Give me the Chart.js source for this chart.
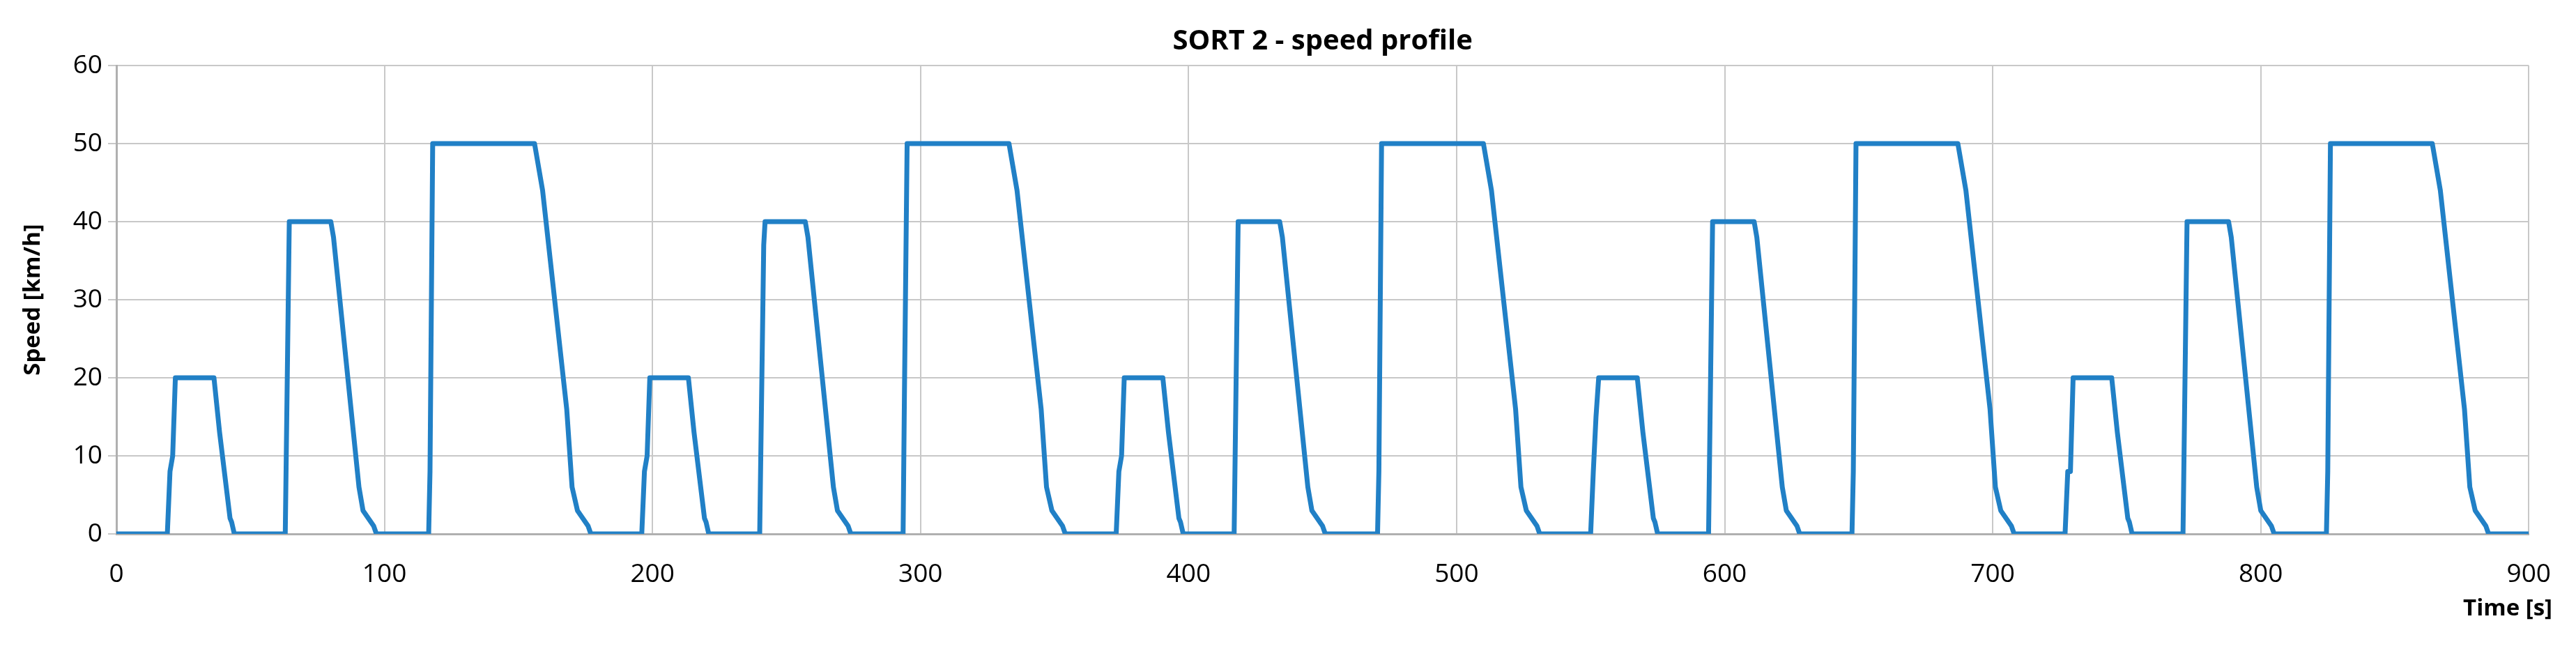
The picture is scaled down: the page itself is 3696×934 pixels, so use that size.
<!DOCTYPE html>
<html><head><meta charset="utf-8">
<script src="https://cdn.jsdelivr.net/npm/chart.js@4"></script>
<style>html,body{margin:0;padding:0;background:#fff}#w{width:3696px;height:934px}</style>
</head><body><div id="w"><canvas id="c"></canvas></div>
<script>
const chartTitle = "SORT 2 - speed profile";
const xTitle = "Time [s]";
const yTitle = "Speed [km/h]";
const xTicks = [0,100,200,300,400,500,600,700,800,900];
const yTicks = [0,10,20,30,40,50,60];
const timeS = [
0,19,20,21,22,36.4,38.5,42.4,43,44,63,64.5,80,81,90.5,92,96,97,116.5,117,118,156,159,168,170,172,176,177,
196,197,198,199,213.4,215.5,219.4,220,221,240,241.5,242,257,258,267.5,269,273,274,293.5,294,295,333,336,345,347,349,353,354,
373,374,375,376,390.4,392.5,396.4,397,398,417,418.5,434,435,444.5,446,450,451,470.5,471,472,510,513,522,524,526,530,531,
550,551,552,553,567.4,569.5,573.4,574,575,594,595.5,611,612,621.5,623,627,628,647.5,648,649,687,690,699,701,703,707,708,
727,728,729,730,744.4,746.5,750.4,751,752,771,772.5,788,789,798.5,800,804,805,824.5,825,826,864,867,876,878,880,884,885,900];
const speedKmh = [
0,0,8,10,20,20,13,2,1.5,0,0,40,40,38,6,3,1,0,0,8,50,50,44,16,6,3,1,0,
0,8,10,20,20,13,2,1.5,0,0,37,40,40,38,6,3,1,0,0,18,50,50,44,16,6,3,1,0,
0,8,10,20,20,13,2,1.5,0,0,40,40,38,6,3,1,0,0,8,50,50,44,16,6,3,1,0,
0,8,15,20,20,13,2,1.5,0,0,40,40,38,6,3,1,0,0,8,50,50,44,16,6,3,1,0,
0,8,8,20,20,13,2,1.5,0,0,40,40,38,6,3,1,0,0,8,50,50,44,16,6,3,1,0,0];
const pts = timeS.map((t,i)=>({x:t,y:speedKmh[i]}));
const F = "'Open Sans', 'DejaVu Sans', sans-serif";
const textPlugin = {id:'txt', afterDraw(ch){
  const c=ch.ctx, a=ch.chartArea; c.save(); c.fillStyle='#000';
  c.font="bold 40px "+F; c.textAlign='center'; c.textBaseline='middle';
  c.fillText(chartTitle,(a.left+a.right)/2,60);
  c.font="bold 33px "+F; c.textAlign='right'; c.fillText(xTitle,3662,874);
  c.translate(48,(a.top+a.bottom)/2); c.rotate(-Math.PI/2); c.textAlign='center';
  c.fillText(yTitle,0,0); c.restore();
}};
new Chart(document.getElementById('c'),{
  type:'line',
  data:{datasets:[{data:pts,borderColor:'#2180c6',borderWidth:7,pointRadius:0,tension:0,fill:false,borderJoinStyle:'round'}]},
  options:{responsive:true,maintainAspectRatio:false,animation:false,
    layout:{padding:{top:94,right:66,left:0,bottom:0}},
    plugins:{legend:{display:false},tooltip:{enabled:false}},
    scales:{
      x:{type:'linear',min:0,max:900,afterBuildTicks(s){s.ticks=xTicks.map(v=>({value:v}));},
        afterFit(s){s.height=168;},
        grid:{color:'#c8c8c8',lineWidth:2,drawTicks:false},
        border:{color:'#b0b0b0',width:3,dash:[]},
        ticks:{color:'#000',font:{size:37,family:F},padding:36,maxRotation:0}},
      y:{min:0,max:60,afterBuildTicks(s){s.ticks=yTicks.map(v=>({value:v}));},
        afterFit(s){s.width=167;},
        grid:{color:'#c8c8c8',lineWidth:2,drawTicks:true,tickLength:12},
        border:{color:'#b0b0b0',width:3,dash:[]},
        ticks:{color:'#000',font:{size:37,family:F},padding:8}}
    }},
  plugins:[textPlugin]
});
</script></body></html>
